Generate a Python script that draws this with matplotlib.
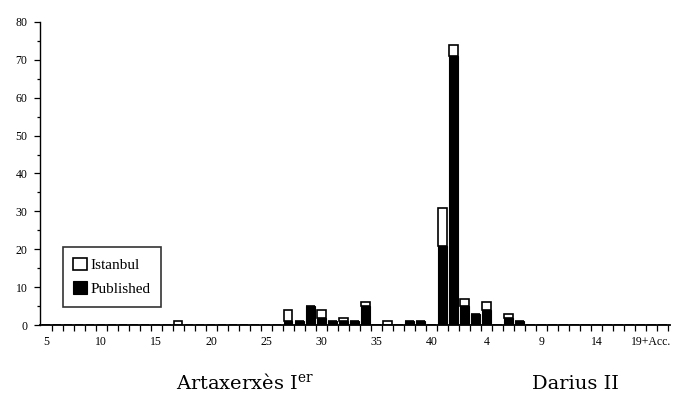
import numpy as np
import matplotlib.pyplot as plt

plt.rcParams['font.family'] = ['Liberation Serif', 'DejaVu Serif']
plt.rcParams['mathtext.fontset'] = 'dejavuserif'

# regnal years: Artaxerxes I 5..41, Darius II 1..19, accession
annees_art = list(range(5, 42))
annees_dar = list(range(1, 20))
annees = [f"A{a}" for a in annees_art] + [f"D{d}" for d in annees_dar] + ["Acc"]

# number of tablets per year
publies = {"A28": 1, "A27": 1, "A29": 5, "A30": 2, "A31": 1, "A32": 1, "A33": 1,
           "A34": 5, "A38": 1, "A39": 1, "A41": 21,
           "D1": 71, "D2": 5, "D3": 3, "D4": 4, "D6": 2, "D7": 1}
istanbul = {"A17": 1, "A27": 3, "A30": 2, "A32": 1, "A34": 1, "A36": 1,
            "A41": 10, "D1": 3, "D2": 2, "D4": 2, "D6": 1}

etiquettes_x = ["5", "10", "15", "20", "25", "30", "35", "40", "4", "9", "14", "19+Acc."]
pos_etiquettes = ["A5", "A10", "A15", "A20", "A25", "A30", "A35", "A40",
                  "D4", "D9", "D14", "D19"]


def main():
    x = np.arange(len(annees))
    pub = np.array([publies.get(a, 0) for a in annees])
    ist = np.array([istanbul.get(a, 0) for a in annees])

    fig = plt.figure(figsize=(6.77, 3.97), dpi=100)
    ax = fig.add_axes([0.059, 0.181, 0.931, 0.764])

    ax.bar(x, pub, width=0.78, color="black", edgecolor="black", linewidth=0.8,
           label="Published")
    ax.bar(x, ist, width=0.78, bottom=pub, color="white", edgecolor="black",
           linewidth=1.2, label="Istanbul")

    ax.set_xlim(-0.55, len(annees) - 0.3)
    ax.set_ylim(0, 80)
    ax.spines["top"].set_visible(False)
    ax.spines["right"].set_visible(False)
    ax.spines["left"].set_linewidth(1.0)
    ax.spines["bottom"].set_linewidth(1.3)

    ax.set_yticks(np.arange(0, 81, 10))
    ax.set_yticks(np.arange(0, 81, 5), minor=True)
    ax.set_xticks([annees.index(p) for p in pos_etiquettes])
    ax.set_xticklabels(etiquettes_x)
    ax.set_xticks(x + 0.5, minor=True)
    ax.tick_params(axis="both", which="both", direction="out", labelsize=8.5,
                   colors="black", width=0.9)
    ax.tick_params(axis="x", which="major", length=0, pad=8)
    ax.tick_params(axis="x", which="minor", length=4)
    ax.tick_params(axis="y", which="major", length=4, pad=5)
    ax.tick_params(axis="y", which="minor", length=2.5)

    poignees, noms = ax.get_legend_handles_labels()
    leg = ax.legend(poignees[::-1], noms[::-1], loc="upper left",
                    bbox_to_anchor=(0.036, 0.258), fancybox=False,
                    edgecolor="black", fontsize=11, handlelength=0.9,
                    handleheight=0.9, handletextpad=0.2, borderpad=0.7,
                    labelspacing=0.6, borderaxespad=0)
    leg.get_frame().set_linewidth(1.2)

    fig.text(0.362, 0.02, r"Artaxerxès I$^{\mathrm{er}}$", ha="center",
             fontsize=14, family="DejaVu Serif")
    fig.text(0.85, 0.02, "Darius II", ha="center", fontsize=14,
             family="DejaVu Serif")

    fig.savefig("out.png", dpi=100)


if __name__ == "__main__":
    main()
